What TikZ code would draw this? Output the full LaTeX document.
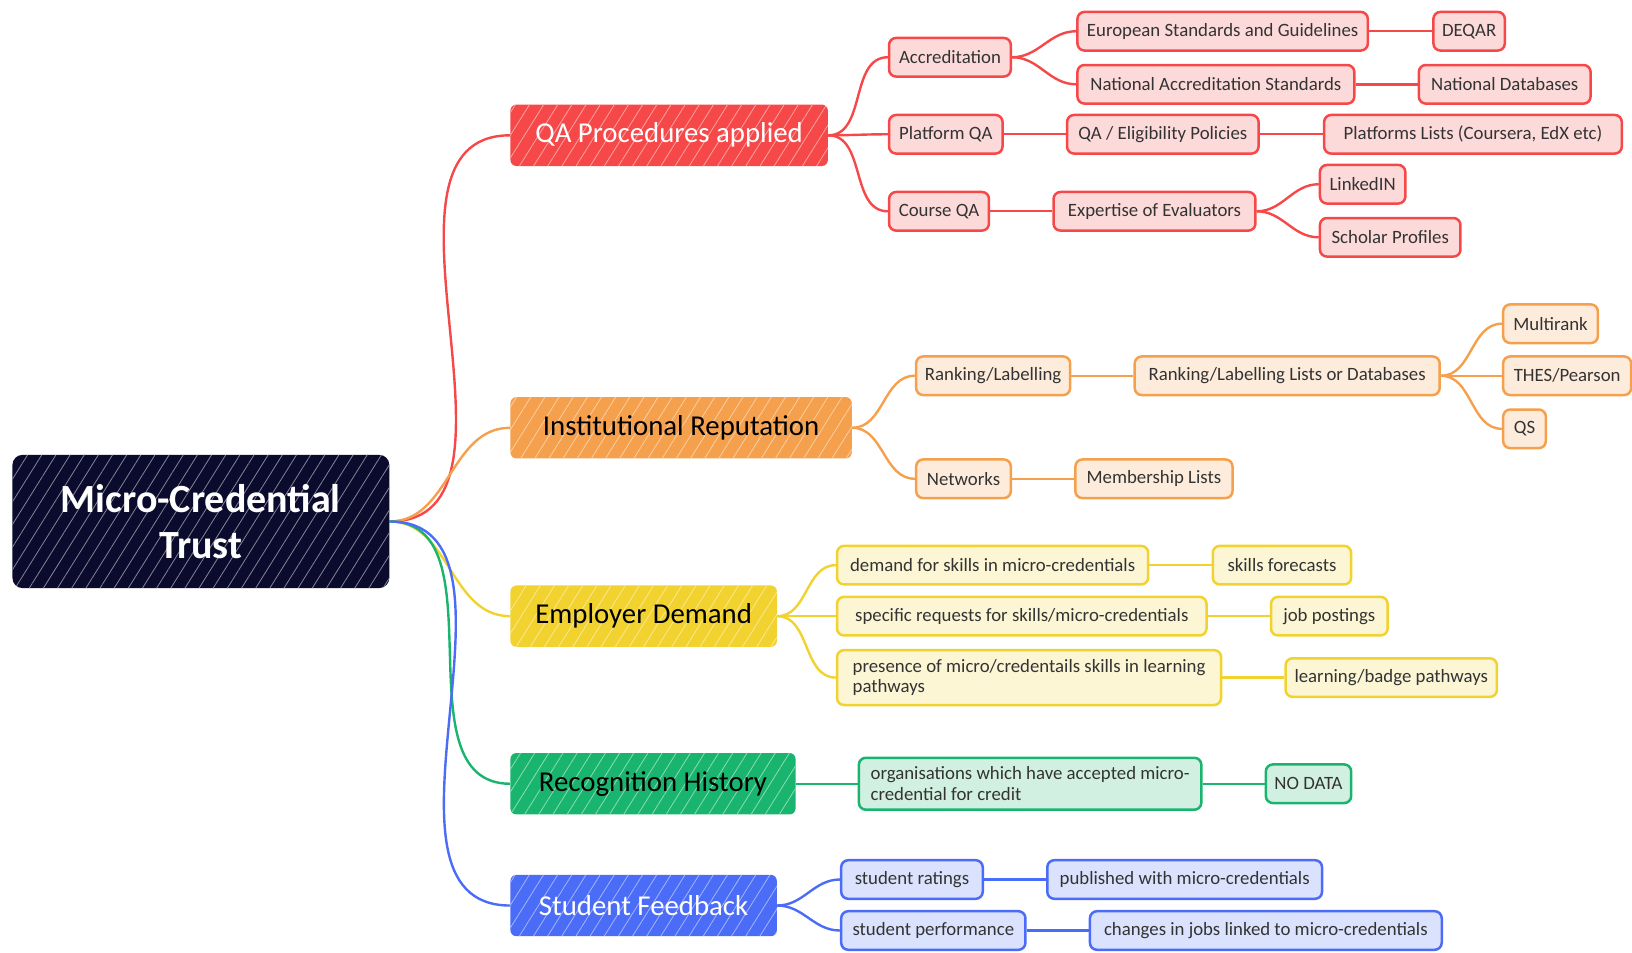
\documentclass[tikz,border=0pt]{standalone}
\usepackage{fontspec}
\setmainfont{Carlito}
\usetikzlibrary{patterns.meta,backgrounds}

\definecolor{inkroot}{HTML}{0B0B2E}
\definecolor{qared}{HTML}{F64848}
\definecolor{reporange}{HTML}{F5A04C}
\definecolor{empyellow}{HTML}{F2D22E}
\definecolor{recgreen}{HTML}{19B56E}
\definecolor{stublue}{HTML}{4B6CF6}
\definecolor{leaftext}{HTML}{333333}

\tikzset{
  hatch/.style={preaction={fill=#1},
    pattern={Lines[angle=58,distance=6pt,line width=0.4pt]},
    pattern color=white!50!#1},
  wd/.style={minimum width=#1*0.5204pt},
  rootbox/.style={hatch=inkroot, rounded corners=5pt, minimum width=188.4pt,
    minimum height=66.6pt, text=white, align=center,
    font=\fontsize{20}{23}\selectfont\bfseries},
  topic/.style 2 args={hatch=#1, rounded corners=3pt, anchor=west,
    minimum height=30.7pt, inner xsep=12.5pt, text=#2,
    font=\fontsize{14.4}{16}\selectfont},
  leaf/.style={draw=#1, fill=#1!20!white, line width=1.25pt, rounded corners=3.5pt,
    anchor=west, minimum height=19.3pt, inner xsep=4.3pt, inner ysep=4.5pt,
    text=leaftext, align=left, font=\fontsize{9.4}{10.4}\selectfont},
  link/.style={draw=#1, line width=1.2pt},
}

\begin{document}
\begin{tikzpicture}[x=0.5204pt, y=-0.5204pt]
\useasboundingbox (0,0) rectangle (1568,914.67);

% centre
\node[rootbox] (root) at (193,501) {Micro-Credential\\Trust};

% main topics
\node[topic={qared}{white}, wd=302]      (qa)   at (490,130) {QA Procedures applied};
\node[topic={reporange}{black}, wd=328]  (inst) at (490,411) {Institutional Reputation};
\node[topic={empyellow}{black}, wd=252]  (emp)  at (490,592) {Employer Demand};
\node[topic={recgreen}{black}, wd=274]   (rec)  at (490,753) {Recognition History};
\node[topic={stublue}{white}, wd=256]    (stu)  at (490,870) {Student Feedback};

% QA procedures
\node[leaf=qared, wd=117] (acc)     at (853,55)   {Accreditation};
\node[leaf=qared, wd=279] (esg)     at (1034,30)  {European Standards and Guidelines};
\node[leaf=qared, wd=68]  (deqar)   at (1376,30)  {DEQAR};
\node[leaf=qared, wd=266] (nas)     at (1034,81)  {National Accreditation Standards};
\node[leaf=qared, wd=165] (ndb)     at (1362,81)  {National Databases};
\node[leaf=qared, wd=109] (pqa)     at (853,129)  {Platform QA};
\node[leaf=qared, wd=184] (elig)    at (1024,129) {QA / Eligibility Policies};
\node[leaf=qared, wd=286] (plist)   at (1271,129) {Platforms Lists (Coursera, EdX etc)};
\node[leaf=qared, wd=96]  (cqa)     at (853,203)  {Course QA};
\node[leaf=qared, wd=194] (expe)    at (1011,203) {Expertise of Evaluators};
\node[leaf=qared, wd=82]  (linked)  at (1267,177) {LinkedIN};
\node[leaf=qared, wd=135] (scholar) at (1267,228) {Scholar Profiles};

% institutional reputation
\node[leaf=reporange, wd=148] (rank)   at (879,361)  {Ranking/Labelling};
\node[leaf=reporange, wd=293] (rankdb) at (1089,361) {Ranking/Labelling Lists or Databases};
\node[leaf=reporange, wd=91]  (multi)  at (1443,311) {Multirank};
\node[leaf=reporange, wd=123] (thes)   at (1443,361) {THES/Pearson};
\node[leaf=reporange, wd=41]  (qs)     at (1443,412) {QS};
\node[leaf=reporange, wd=91]  (netw)   at (879,460)  {Networks};
\node[leaf=reporange, wd=151] (member) at (1032,460) {Membership Lists};

% employer demand
\node[leaf=empyellow, wd=299] (dem)   at (803,543)  {demand for skills in micro-credentials};
\node[leaf=empyellow, wd=133] (fore)  at (1164,543) {skills forecasts};
\node[leaf=empyellow, wd=355] (spec)  at (803,592)  {specific requests for skills/micro-credentials};
\node[leaf=empyellow, wd=112] (jobs)  at (1220,592) {job postings};
\node[leaf=empyellow, wd=369] (pres)  at (803,651)  {presence of micro/credentails skills in learning\\pathways};
\node[leaf=empyellow, wd=203] (badge) at (1234,651) {learning/badge pathways};

% recognition history
\node[leaf=recgreen, wd=329] (orgs)   at (824,753)  {organisations which have accepted micro-\\credential for credit};
\node[leaf=recgreen, wd=82]  (nodata) at (1215,753) {NO DATA};

% student feedback
\node[leaf=stublue, wd=136] (rat)  at (807,845)  {student ratings};
\node[leaf=stublue, wd=264] (pub)  at (1005,845) {published with micro-credentials};
\node[leaf=stublue, wd=177] (perf) at (807,894)  {student performance};
\node[leaf=stublue, wd=338] (chg)  at (1046,894) {changes in jobs linked to micro-credentials};

% branches
\begin{scope}[on background layer]
  \draw[link=qared]     (root.east) to[out=0,in=180] (qa.west);
  \draw[link=reporange] (root.east) to[out=0,in=180] (inst.west);
  \draw[link=empyellow] (root.east) to[out=0,in=180] (emp.west);
  \draw[link=recgreen]  (root.east) to[out=0,in=180] (rec.west);
  \draw[link=stublue]   (root.east) to[out=0,in=180] (stu.west);

  \foreach \a/\b in {qa/acc, qa/pqa, qa/cqa, acc/esg, acc/nas, esg/deqar, nas/ndb,
      pqa/elig, elig/plist, cqa/expe, expe/linked, expe/scholar}
    \draw[link=qared] (\a.east) to[out=0,in=180] (\b.west);

  \foreach \a/\b in {inst/rank, inst/netw, rank/rankdb, rankdb/multi, rankdb/thes,
      rankdb/qs, netw/member}
    \draw[link=reporange] (\a.east) to[out=0,in=180] (\b.west);

  \foreach \a/\b in {emp/dem, emp/spec, emp/pres, dem/fore, spec/jobs, pres/badge}
    \draw[link=empyellow] (\a.east) to[out=0,in=180] (\b.west);

  \foreach \a/\b in {rec/orgs, orgs/nodata}
    \draw[link=recgreen] (\a.east) to[out=0,in=180] (\b.west);

  \foreach \a/\b in {stu/rat, stu/perf, rat/pub, perf/chg}
    \draw[link=stublue] (\a.east) to[out=0,in=180] (\b.west);
\end{scope}
\end{tikzpicture}
\end{document}
